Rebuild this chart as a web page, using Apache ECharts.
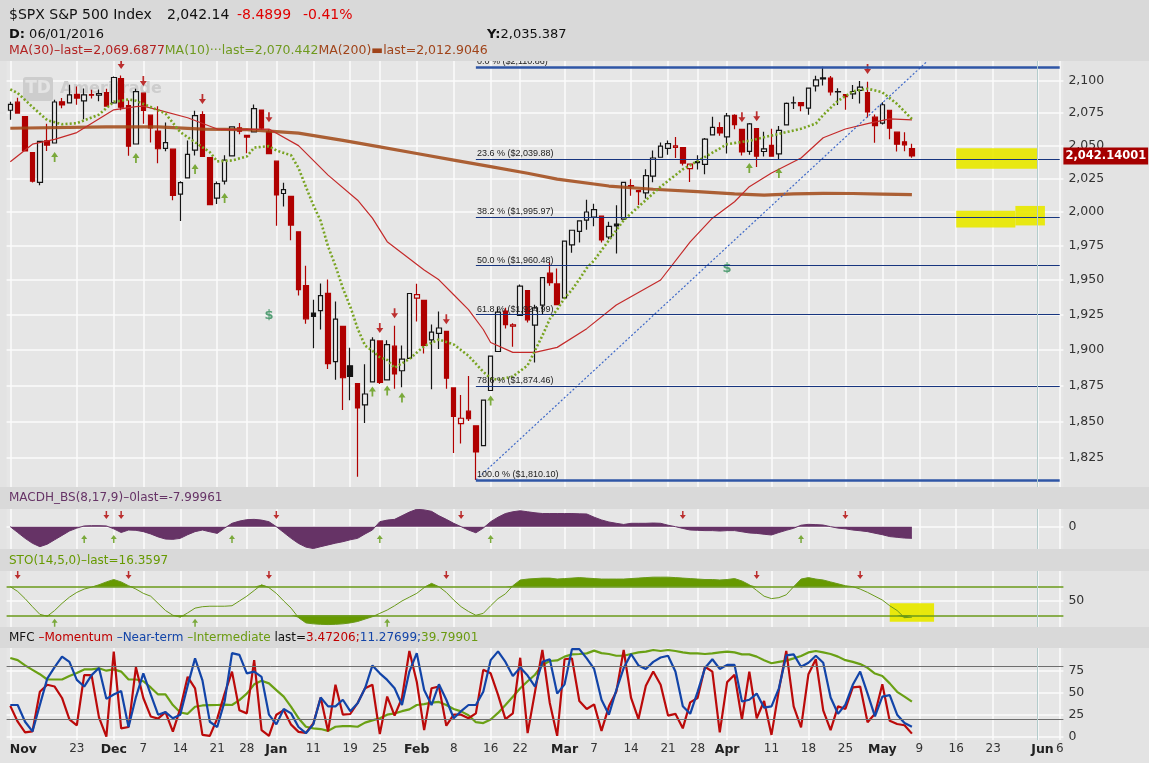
<!DOCTYPE html>
<html><head><meta charset="utf-8">
<script src="https://cdn.jsdelivr.net/npm/echarts@6/dist/echarts.min.js"></script>
<style>html,body{margin:0;padding:0;background:#e3e3e3}#c{width:1149px;height:763px}</style>
</head><body><div id="c"></div>
<script>
// ---------- calendar / ticks ----------
const holidays = ['2015-11-26','2015-12-25','2016-01-01','2016-01-18','2016-02-15','2016-03-25','2016-05-30'];
const firstDay = '2015-11-10', lastDay = '2016-06-06';
const tickDates = ['2015-11-10','2015-11-23','2015-12-01','2015-12-07','2015-12-14','2015-12-21','2015-12-28','2016-01-04','2016-01-11','2016-01-19','2016-01-25','2016-02-01','2016-02-08','2016-02-16','2016-02-22','2016-03-01','2016-03-07','2016-03-14','2016-03-21','2016-03-28','2016-04-01','2016-04-11','2016-04-18','2016-04-25','2016-05-02','2016-05-09','2016-05-16','2016-05-23','2016-06-01','2016-06-06'];
const tickTexts = ['Nov','23','Dec','7','14','21','28','Jan','11','19','25','Feb','8','16','22','Mar','7','14','21','28','Apr','11','18','25','May','9','16','23','Jun','6'];
const monthNames = ['Nov','Dec','Jan','Feb','Mar','Apr','May','Jun'];
const priceTicks = [1825,1850,1875,1900,1925,1950,1975,2000,2025,2050,2075,2100];

// ---------- candles (Nov 10 2015 .. May 6 2016) ----------
const openP = [2077.19,2083.41,2072.29,2044.64,2022.08,2053.67,2051.99,2083.70,2082.82,2089.41,2084.42,2089.30,2088.82,2090.95,
2082.93,2101.71,2080.71,2051.24,2090.42,2073.39,2061.17,2047.93,2047.27,2013.37,2025.55,2046.50,2073.76,2040.81,2010.27,2023.15,2042.20,2063.52,2057.77,2060.54,2077.34,2060.59,
2038.20,2013.78,2011.71,1985.32,1945.97,1926.12,1927.83,1940.34,1891.68,1916.68,1888.66,1876.18,1861.46,1877.40,1906.28,1878.79,1902.52,1885.22,1894.00,
1936.94,1935.26,1907.07,1911.67,1913.07,1873.25,1848.46,1857.10,1847.00,1833.40,1871.44,1898.80,1927.57,1916.74,1924.44,1942.38,1917.56,1931.87,1954.95,1947.13,
1937.09,1975.71,1985.60,1994.01,1996.11,1996.88,1981.44,1990.97,1994.71,2019.27,2015.27,2014.24,2026.90,2041.16,2047.88,2048.64,2048.55,2032.48,2037.89,2035.75,2058.27,2063.77,
2056.62,2073.19,2062.50,2045.56,2063.01,2045.54,2050.23,2043.72,2065.92,2082.89,2083.10,2078.83,2096.05,2101.52,2102.09,2091.49,2089.37,2089.84,2092.57,2090.93,2071.82,
2067.17,2077.18,2060.30,2052.95,2047.77];
const highP = [2083.67,2086.94,2072.29,2044.64,2053.22,2066.69,2085.31,2086.74,2097.06,2095.61,2094.12,2093.00,2093.29,2093.81,
2103.37,2104.27,2085.00,2093.84,2090.42,2073.85,2080.33,2067.65,2047.27,2022.92,2053.87,2076.72,2076.37,2040.81,2022.90,2042.74,2064.73,2067.36,2057.77,2081.56,2077.34,2062.54,
2038.20,2021.94,2011.71,1985.32,1960.40,1935.65,1947.38,1950.33,1934.47,1916.68,1901.44,1876.18,1889.85,1908.85,1906.28,1906.73,1916.99,1902.96,1940.24,
1947.20,1935.26,1918.01,1927.35,1913.07,1873.25,1868.25,1881.60,1847.00,1864.78,1895.77,1930.68,1930.00,1918.78,1946.70,1942.38,1932.08,1951.83,1962.96,1958.27,
1978.35,1986.51,1993.69,2009.13,2006.12,1996.88,1992.69,2005.08,2022.37,2024.57,2015.94,2032.02,2046.24,2052.36,2053.91,2056.60,2048.55,2036.04,2042.67,2055.91,2072.21,2067.92,
2075.07,2074.02,2062.50,2067.33,2063.01,2060.63,2062.93,2065.05,2083.18,2087.84,2083.22,2094.66,2104.05,2111.05,2103.78,2094.32,2089.37,2096.87,2099.89,2099.30,2073.85,
2083.42,2077.18,2060.30,2060.23,2051.50];
const lowP = [2069.91,2074.85,2045.66,2022.02,2019.94,2045.90,2051.99,2078.76,2082.82,2081.39,2070.29,2086.30,2084.13,2080.41,
2082.93,2077.11,2042.35,2051.24,2066.78,2052.32,2036.53,2045.67,2008.80,1993.26,2025.55,2042.43,2041.66,2005.33,2005.93,2020.49,2042.20,2058.73,2044.20,2060.54,2061.97,2043.62,
1989.68,2004.17,1979.05,1938.83,1918.46,1901.10,1914.35,1886.41,1878.93,1857.83,1864.60,1812.29,1848.98,1877.40,1875.97,1878.79,1872.70,1873.65,1894.00,
1920.03,1897.29,1872.23,1900.52,1872.65,1828.46,1834.94,1850.32,1810.10,1833.40,1871.44,1898.80,1915.09,1902.17,1924.44,1919.44,1891.00,1925.41,1945.78,1931.81,
1937.09,1969.96,1977.37,1986.77,1989.38,1977.43,1979.84,1969.25,1994.71,2012.05,2005.23,2010.04,2022.16,2041.16,2043.14,2040.57,2034.86,2022.49,2031.96,2028.31,2058.27,2057.46,
2043.98,2062.57,2042.56,2043.09,2033.80,2041.69,2041.88,2039.74,2065.92,2078.13,2076.31,2073.65,2091.68,2096.32,2088.52,2081.20,2077.52,2085.80,2082.31,2071.62,2052.28,
2066.11,2054.89,2045.55,2045.77,2040.70];
const closeP = [2081.72,2075.00,2045.97,2023.04,2053.19,2050.44,2083.58,2081.24,2089.17,2086.59,2089.14,2088.87,2090.11,2080.41,
2102.63,2079.51,2049.62,2091.69,2077.07,2063.59,2047.62,2052.23,2012.37,2021.94,2043.41,2073.07,2041.89,2005.55,2021.15,2038.97,2064.29,2060.99,2056.50,2078.36,2063.36,2043.94,
2012.66,2016.71,1990.26,1943.09,1922.03,1923.67,1938.68,1890.28,1921.84,1880.33,1881.33,1859.33,1868.99,1906.90,1877.08,1903.63,1882.95,1893.36,1940.24,
1939.38,1903.03,1912.53,1915.45,1880.05,1853.44,1852.21,1851.86,1829.08,1864.78,1895.58,1926.82,1917.83,1917.78,1945.50,1921.27,1929.80,1951.70,1948.05,1932.23,
1978.35,1986.45,1993.40,1999.99,2001.76,1979.26,1989.26,1989.57,2022.19,2019.64,2015.93,2027.22,2040.59,2049.58,2051.60,2049.80,2036.71,2035.94,2037.05,2055.01,2063.95,2059.74,
2072.78,2066.13,2045.17,2066.66,2041.91,2047.60,2041.99,2061.72,2082.42,2082.78,2080.73,2094.34,2100.80,2102.40,2091.48,2091.58,2087.79,2091.70,2095.15,2075.81,2065.30,
2081.43,2063.37,2051.12,2050.63,2042.14];

// ---------- moving averages [dayIndex, value] ----------
const ma30 = [[0,2037.8],[3,2051.1],[6,2054.8],[9,2060],[14,2077.5],[17,2080],[18,2080.4],[20,2077.5],[24,2071.4],[28,2062.7],[30,2062.2],[35,2062.7],[39,2050.0],[43,2027.6],[47,2008.8],[49,1995.4],[51,1978],[56,1957.3],[58,1950.1],[60,1939.3],[62,1928.6],[64,1914.4],[65,1905.2],[68,1898.2],[71,1898.2],[74,1901.7],[78,1915],[82,1932],[88,1950],[92,1977.9],[95,1995.4],[98,2007.6],[100,2018.9],[103,2029.2],[107,2040.6],[110,2056],[113,2062.7],[116,2066.9],[119,2070.5],[122,2069.7]];
const ma10 = [[0,2093.4],[1,2090.5],[3,2079.7],[5,2069.5],[7,2066.4],[9,2067.2],[12,2073.8],[14,2083.7],[16,2085.5],[17,2084.5],[19,2079.7],[21,2074.6],[23,2060.3],[25,2052.6],[27,2045],[28,2038],[30,2038.7],[32,2041.7],[33,2048.5],[35,2049.6],[36,2046.3],[38,2042.6],[39,2033],[40,2018.8],[41,2005.1],[42,1993.3],[43,1974.5],[44,1960.3],[45,1944],[46,1930.8],[47,1915.1],[48,1903],[49,1899.3],[50,1894.8],[51,1892.8],[52,1887.3],[54,1893.5],[56,1902.6],[58,1907.3],[60,1903.8],[62,1895.8],[64,1884.5],[65,1880],[66,1878.9],[68,1881.2],[70,1889],[72,1910],[73,1921.9],[74,1928.7],[75,1936.9],[76,1942.9],[77,1950.5],[78,1958.7],[79,1964.3],[83,1993.9],[88,2018.9],[91,2032],[95,2044.6],[97,2051.1],[100,2053.7],[102,2056.4],[105,2060.3],[107,2062.9],[109,2066.9],[110,2073.5],[111,2079],[112,2084.5],[114,2091.8],[116,2093.9],[118,2091.1],[120,2082],[122,2070.4]];
const ma200 = [[0,2063.3],[13,2064.3],[20,2064.3],[26,2062.7],[32,2062.2],[39,2059.6],[45,2054],[50,2049],[55,2044],[60,2039],[65,2034],[70,2029],[74,2024.6],[81,2019.4],[87,2017],[93,2015.2],[98,2013.5],[102,2012.6],[106,2013.5],[110,2013.9],[114,2013.8],[118,2013.4],[120,2013.2],[122,2012.9]];

// ---------- fibonacci / trend ----------
const fibPct = ['0.0 %','23.6 %','38.2 %','50.0 %','61.8 %','78.6 %','100.0 %'];
const fibVal = [2110.86,2039.88,1995.97,1960.48,1924.99,1874.46,1810.10];
const fibStartIdx = 63;
const trendLine = [[63,1810.10],[124,2115.0]];
const lastPrice = 2042.14;

// ---------- signals ----------
const sigDownIdx = [15,18,26,35,50,52,59,99,101,116];
const sigDownVal = [2113.2,2099.9,2085.8,2071.8,1915.4,1926.1,1921.8,2071.8,2072.6,2109.3];
const sigUpIdx = [6,17,25,29,49,51,53,65,100,104];
const sigUpVal = [2041.3,2040.5,2032.2,2010.5,1870.8,1871.5,1866.6,1864.5,2033,2029.2];
const dollarIdx = [35,97];
const dollarVal = [1924,1958];
const macdDownIdx = [13,15,36,61,91,113];
const macdUpIdx = [10,14,30,50,65,107];
const stoDownIdx = [1,16,35,59,101,115];
const stoUpIdx = [6,25,51];

// ---------- indicators ----------
const macdH = [0,-4,-8,-11.4,-13.7,-12,-9,-6,-3,-1, 0.5,0.7,0.7,0.5,-1.5,-4,-2.3,-2.5,-3.4,-5, -7,-8.5,-8.7,-8,-5.5,-3.4,-2.3,-3.5,-4.6,-1, 2.3,3.8,4.8,5,4.5,3.4,0,-4,-8,-11.5, -14,-15,-13.7,-12.5,-11.3,-10.3,-9,-8,-5,-2.3, 3.4,4.5,5,7.5,10,11.9,11.5,10.5,7.5,5, 2.3,0,-2.3,-4.2,-1,3.4,6.5,9,10.2,10.9, 10.2,9.5,9,9,9,9,9,8.8,8.7,6.5, 4.6,3.2,2.3,1.5,2.3,2.3,2.3,2.5,2.3,1, 0,-1.2,-2.3,-2.5,-2.7,-2.7,-3,-2.7,-2.7,-3.5, -4.3,-4.6,-5.2,-5.7,-4,-2.5,-1.1,1,1.6,1.4, 1.1,0,-1,-1.5,-2.3,-2.8,-3.4,-4.5,-5.5,-6.8, -7.3,-7.8,-8];
const sto = [80,70,55,38,22,18,30,45,58,68, 75,79,84,90,95,90,82,75,66,60, 45,30,20,16,25,35,38,39,39,39, 40,50,60,72,84,78,66,50,35,15, 4,2,1,0.5,1,2,4,7,12,17, 24,31,40,50,58,66,78,87,80,68, 52,38,28,20,24,40,55,65,82,94, 96,97,98,98,96,97,98,99,98,97, 96,96,96,96,97,98,99,100,100,100, 99,98,97,96,95,95,94,95,97,92, 84,72,60,55,57,63,80,96,99,96, 94,90,86,82,80,75,68,60,52,40, 30,15,16];
const mfcMom = [35,17,5,6,51,59,57,44,19.6,13, 70,70,22,0,96.6,9.5,11,79,44,23, 20.6,28,5.7,32,68,55,2,1,20.6,49, 74,30,26.5,87,7.5,1,25,30,13.7,5.5, 4.4,15,44.5,6,59,25,25.8,38.3,55,59, 3,45.6,24,44,97.4,62.5,7.5,55,57,12.5, 25,25,21,26.5,76,72,47.5,20,26.5,89.7, 4,51,98.5,38.3,1,88,89,40.5,31.5,36.7, 6.6,34.5,51,98.5,44,20,58,74,59,24, 26,9.5,39,44,79.5,74,5,62,70.4,19.5, 74,21,40.6,2,53,97.4,34.5,10.6,71,88, 30,7.5,34.5,31.5,56,57,16.5,26,59.5,18, 14.4,13,3.5];
const mfcNear = [36,36,17,6,36,66,79,91,85,64.5, 57,70,78,43,48,52,11,45,72,48, 25,28,21,25,58,89,64,17,11,40, 95,93,72,74,68,25,14,31.5,26.5,11, 4,14,44.5,34.5,34.5,42,29,38,55,81, 72,64.5,55,36,74,95,53,36,59.5,42, 21,29,36,36,51,87,97,85,69,78.5, 69.5,57,85,88,49,59.5,99.5,99.5,89,77, 42,25,53,78,94,81,77,85,90,92, 74,34.5,26,51,78,88,77,81.6,81.6,40, 42,49,33,34.5,55,92.4,93.5,79.5,84,92, 84,44.5,26,36.4,59,74,49,23,45.6,47.3, 25,15.5,11.3];
const mfcInt = [89.5,87,81,76,71,65,65,65,69,72.5, 76.5,76.5,77.7,75,76.5,74,65,65,63,56, 48,48,36,27.5,26,34,35.5,35.8,36,36.5, 36,41.6,49,59.5,63.6,60.6,53,45.5,34,21, 11.3,9.5,8.7,6.6,11.3,12,12,11.3,16,18.5, 21,25,26.5,29,31,36,37,38.7,39.5,36, 31.5,28.8,24.4,16.5,15.5,19.6,27,36,45.5,55, 63,70.4,81.5,86,86.7,91,93.5,94,94.7,97.8, 95,94,92,92,94,95.8,96.6,98.5,97.4,98.5, 97.4,95.8,94.7,94.7,94,94.7,95.8,96.6,95.8,93.6, 93.6,91,87,83.5,85,86.4,89,91.7,95.8,97.4, 95.8,94,91,87,85,82.5,78.3,71.8,69,60.6, 51,45.5,39.8];

// ---------- build ----------
function tradingDays(a, b) {
  const out = []; let d = new Date(a + 'T00:00:00Z'); const end = new Date(b + 'T00:00:00Z');
  while (d <= end) { const w = d.getUTCDay(); const s = d.toISOString().slice(0, 10);
    if (w !== 0 && w !== 6 && holidays.indexOf(s) < 0) out.push(s);
    d = new Date(d.getTime() + 86400000); }
  return out;
}
const days = tradingDays(firstDay, lastDay);
const tickMap = {}; tickDates.forEach((d, i) => tickMap[d] = tickTexts[i]);
const tickFn = (idx, val) => tickMap[val] !== undefined;
const fmtX = (val) => { const t = tickMap[val]; if (t === undefined) return '';
  if (t === 'Nov') return '{bn|Nov}'; if (t === 'Jun') return '{bj|Jun}';
  if (monthNames.indexOf(t) >= 0) return '{b|' + t + '}'; return '{n|' + t + '}'; };
const fmt2 = v => v.toLocaleString('en-US', {minimumFractionDigits: 2, maximumFractionDigits: 2});

const RED = '#b00000', BLK = '#141414';
const candleData = openP.map((o, i) => {
  const c = closeP[i], prev = i > 0 ? closeP[i - 1] : o;
  const col = c >= prev ? BLK : RED;
  const fill = c > o ? '#ececec' : col;
  return {value: [o, c, lowP[i], highP[i]], itemStyle: {color: fill, color0: fill, borderColor: col, borderColor0: col, borderWidth: 1.2}};
});
const pair = (idx, val) => idx.map((x, k) => [x, val[k]]);
const downArrow = 'path://M3,0 L5,0 L5,5 L8,5 L4,10 L0,5 L3,5 Z';
const upArrow = 'path://M4,0 L8,5 L5,5 L5,10 L3,10 L3,5 L0,5 Z';
const cursorLine = {xAxis: '2016-06-01', lineStyle: {color: '#b3cccc', width: 1, type: 'solid'}, label: {show: false}};

const fibLines = fibVal.map((v, k) => [
  {coord: [days[fibStartIdx], v],
   lineStyle: {color: (k === 0 || k === 6) ? '#2f56a6' : '#17357f', width: (k === 0 || k === 6) ? 2.5 : 1.2, type: 'solid'},
   label: {show: true, position: 'insideStartTop', formatter: fibPct[k] + ' ($' + fmt2(v) + ')', color: '#222', fontSize: 9, fontFamily: 'Liberation Sans', distance: 1}},
  {coord: [days[days.length - 1], v]}
]);

const grids = [
  {left: 6.6, right: 85.6, top: 61, height: 426},
  {left: 6.6, right: 85.6, top: 509, height: 40},
  {left: 6.6, right: 85.6, top: 571, height: 56},
  {left: 6.6, right: 85.6, top: 648, height: 92}
].map(g => Object.assign(g, {show: true, backgroundColor: '#e6e6e6', borderWidth: 0}));

const xAxes = [0, 1, 2, 3].map(k => ({
  type: 'category', gridIndex: k, data: days, boundaryGap: true,
  axisLine: {show: false}, axisTick: {show: false},
  axisLabel: k === 3 ? {show: true, interval: tickFn, formatter: fmtX, margin: 3, hideOverlap: false,
    rich: {b: {fontWeight: 'bold', fontSize: 12.5, color: '#222'}, bn: {fontWeight: 'bold', fontSize: 12.5, color: '#222', padding: [0, 0, 0, 26]},
           bj: {fontWeight: 'bold', fontSize: 12.5, color: '#222', padding: [0, 0, 0, 10]}, n: {fontSize: 12, color: '#333'}}} : {show: false},
  splitLine: {show: true, interval: tickFn, alignWithLabel: true, lineStyle: {color: '#fbfbfb', width: 1.5}}
}));
const yLab = {color: '#333', fontSize: 12.5, margin: 5};
const ySplit = {show: true, lineStyle: {color: '#fbfbfb', width: 1.5}};
const yAxes = [
  {type: 'log', logBase: 10, gridIndex: 0, position: 'right', min: 1805.4, max: 2115.6, axisLine: {show: false},
   axisTick: {show: false, customValues: priceTicks},
   axisLabel: Object.assign({customValues: priceTicks, formatter: v => Math.round(v).toLocaleString('en-US')}, yLab), splitLine: ySplit},
  {type: 'value', gridIndex: 1, position: 'right', min: -15.3, max: 12.1, axisLine: {show: false},
   axisTick: {show: false, customValues: [0]}, axisLabel: Object.assign({customValues: [0]}, yLab), splitLine: ySplit},
  {type: 'value', gridIndex: 2, position: 'right', min: -4.6, max: 112.9, axisLine: {show: false},
   axisTick: {show: false, customValues: [50]}, axisLabel: Object.assign({customValues: [50]}, yLab), splitLine: ySplit},
  {type: 'value', gridIndex: 3, position: 'right', min: -3.75, max: 100.8, axisLine: {show: false},
   axisTick: {show: false, customValues: [0, 25, 50, 75]}, axisLabel: Object.assign({customValues: [0, 25, 50, 75]}, yLab), splitLine: ySplit}
];

const lineS = (name, data, xi, color, width, type, extra) => Object.assign({
  name, type: 'line', data, xAxisIndex: xi, yAxisIndex: xi, showSymbol: false, symbol: 'none', silent: true,
  lineStyle: {color, width, type: type || 'solid'}, z: 3}, extra || {});
const scat = (data, xi, sym, color, size) => ({type: 'scatter', data, xAxisIndex: xi, yAxisIndex: xi, symbol: sym,
  symbolSize: size || [7, 10], itemStyle: {color}, silent: true, z: 4});

const series = [
  {type: 'candlestick', data: candleData, xAxisIndex: 0, yAxisIndex: 0, barWidth: 5, silent: true, z: 2,
   markArea: {silent: true, itemStyle: {color: '#e8e800', opacity: 0.92}, data: [
     [{xAxis: '2016-05-16', yAxis: 2032.5}, {xAxis: '2016-06-01', yAxis: 2048}],
     [{xAxis: '2016-05-16', yAxis: 1988.5}, {xAxis: '2016-05-26', yAxis: 2001}],
     [{xAxis: '2016-05-26', yAxis: 1990}, {xAxis: '2016-06-02', yAxis: 2004.5}]]},
   markLine: {silent: true, symbol: ['none', 'none'], data: fibLines.concat([cursorLine])}},
  lineS('MA200', ma200, 0, 'rgba(160,70,20,0.85)', 3.2),
  lineS('MA30', ma30, 0, '#c42a2a', 1.2),
  lineS('MA10', ma10, 0, '#78a321', 2.6, [2, 2.2]),
  lineS('trend', trendLine, 0, '#3d68c8', 1.2, [2, 2], {
    markLine: {silent: true, symbol: ['none', 'none'], data: [
      {yAxis: lastPrice, lineStyle: {color: 'rgba(0,0,0,0)', width: 1, type: 'solid'},
       label: {show: true, position: 'end', distance: 0, formatter: '2,042.14001', color: '#ffffff', backgroundColor: '#a50000',
               fontWeight: 'bold', fontSize: 11.5, padding: [3, 2, 2, 2]}}]}}),
  scat(pair(sigDownIdx, sigDownVal), 0, downArrow, '#b00000'),
  scat(pair(sigUpIdx, sigUpVal), 0, upArrow, '#5f9a10'),
  {type: 'scatter', data: pair(dollarIdx, dollarVal), xAxisIndex: 0, yAxisIndex: 0, symbolSize: 1, silent: true, z: 4,
   itemStyle: {color: 'rgba(0,0,0,0)'}, label: {show: true, position: 'inside', formatter: '$', color: '#2e8b57', fontSize: 13, fontWeight: 'bold'}},
  // MACD
  lineS('MACDH', macdH, 1, '#663366', 1, 'solid', {areaStyle: {color: '#663366', opacity: 1},
    markLine: {silent: true, symbol: ['none', 'none'], data: [cursorLine]}}),
  scat(macdDownIdx.map(i => [i, 8]), 1, downArrow, '#b00000', [6, 8]),
  scat(macdUpIdx.map(i => [i, -8.4]), 1, upArrow, '#5f9a10', [6, 8]),
  // STO fills
  lineS('stoBaseHi', sto.map(() => 80), 2, 'rgba(0,0,0,0)', 0, 'solid', {stack: 'hi'}),
  lineS('stoHi', sto.map(v => Math.max(v, 80) - 80), 2, 'rgba(0,0,0,0)', 0, 'solid', {stack: 'hi', areaStyle: {color: '#669900', opacity: 1}}),
  lineS('stoBaseLo', sto.map(v => Math.min(v, 20)), 2, 'rgba(0,0,0,0)', 0, 'solid', {stack: 'lo'}),
  lineS('stoLo', sto.map(v => 20 - Math.min(v, 20)), 2, 'rgba(0,0,0,0)', 0, 'solid', {stack: 'lo', areaStyle: {color: '#669900', opacity: 1}}),
  lineS('STO', sto, 2, '#6a9a1a', 1, 'solid', {
    markLine: {silent: true, symbol: ['none', 'none'], label: {show: false},
      data: [{yAxis: 80, lineStyle: {color: '#6a9a1a', width: 1.5, type: 'solid'}}, {yAxis: 20, lineStyle: {color: '#6a9a1a', width: 1.5, type: 'solid'}}, cursorLine]},
    markArea: {silent: true, itemStyle: {color: '#e8e800', opacity: 0.95}, data: [[{xAxis: '2016-05-03', yAxis: 6.5}, {xAxis: '2016-05-11', yAxis: 45}]]}}),
  scat(stoDownIdx.map(i => [i, 104.5]), 2, downArrow, '#b00000', [6, 8]),
  scat(stoUpIdx.map(i => [i, 4.4]), 2, upArrow, '#5f9a10', [6, 8]),
  // MFC
  lineS('Intermediate', mfcInt, 3, '#6aa014', 2.2, 'solid', {
    markLine: {silent: true, symbol: ['none', 'none'], label: {show: false},
      data: [{yAxis: 80, lineStyle: {color: '#6e6e6e', width: 1, type: 'solid'}}, {yAxis: 20, lineStyle: {color: '#6e6e6e', width: 1, type: 'solid'}}, cursorLine]}}),
  lineS('Momentum', mfcMom, 3, '#bb0a0a', 2.2),
  lineS('Near-term', mfcNear, 3, '#1244a8', 2.2)
];

const F = '"DejaVu Sans", Verdana, sans-serif';
const txt = (text, x, y, fill, size, weight, extra) => ({type: 'text', x, y, z: 12,
  style: Object.assign({text, fill, font: (weight || 'normal') + ' ' + size + 'px ' + F, verticalAlign: 'middle'}, extra || {})});
const band = (y, h) => ({type: 'rect', shape: {x: 0, y, width: 1149, height: h}, style: {fill: '#d9d9d9'}, z: 10});
const rs = (c) => ({fill: c, color: c, fontSize: 12.5, fontFamily: 'DejaVu Sans'});

const graphic = [
  {type: 'rect', shape: {x: 23, y: 77, width: 30, height: 24, r: 3}, style: {fill: '#cdcdcd'}, z: 1},
  {type: 'text', x: 38, y: 89, z: 1, style: {text: 'TD', fill: '#e4e4e4', font: 'bold 17px ' + F, align: 'center', verticalAlign: 'middle'}},
  {type: 'text', x: 60, y: 89, z: 1, style: {text: 'Ameritrade', fill: '#cdcdcd', font: 'bold 16px ' + F, verticalAlign: 'middle'}},
  band(0, 61), band(487, 22), band(549, 22), band(627, 21),
  txt('$SPX S&P 500 Index', 9, 15, '#111', 14),
  txt('2,042.14', 167, 15, '#111', 14),
  txt('-8.4899', 237, 15, '#e00000', 14),
  txt('-0.41%', 303, 15, '#e00000', 14),
  txt('{b|D:} 06/01/2016', 9, 35, '#111', 13, 'normal', {rich: {b: {fontWeight: 'bold', fill: '#111', fontSize: 13, fontFamily: 'DejaVu Sans'}}}),
  txt('{b|Y:}2,035.387', 487, 35, '#111', 13, 'normal', {rich: {b: {fontWeight: 'bold', fill: '#111', fontSize: 13, fontFamily: 'DejaVu Sans'}}}),
  txt('{r|MA(30)–last=2,069.6877}{g|MA(10)···last=2,070.442}{b|MA(200)▬last=2,012.9046}', 9, 51, '#b22222', 12.5, 'normal',
      {rich: {r: rs('#b22222'), g: rs('#6f9a1f'), b: rs('#a0441a')}}),
  txt('MACDH_BS(8,17,9)–0last=-7.99961', 9, 498, '#663366', 12),
  txt('STO(14,5,0)–last=16.3597', 9, 561, '#669900', 12),
  txt('{k|MFC }{r|–Momentum }{u|–Near-term }{g|–Intermediate }{k|last=}{r|3.47206;}{u|11.27699;}{g|39.79901}', 9, 638, '#111', 12, 'normal',
      {rich: {k: Object.assign(rs('#111'), {fontSize: 12}), r: Object.assign(rs('#c00000'), {fontSize: 12}), u: Object.assign(rs('#1244a8'), {fontSize: 12}), g: Object.assign(rs('#6a9a10'), {fontSize: 12})}})
];

const chart = echarts.init(document.getElementById('c'));
chart.setOption({
  animation: false, backgroundColor: '#e3e3e3',
  textStyle: {fontFamily: 'DejaVu Sans'},
  grid: grids, xAxis: xAxes, yAxis: yAxes, series, graphic
});
</script></body></html>
